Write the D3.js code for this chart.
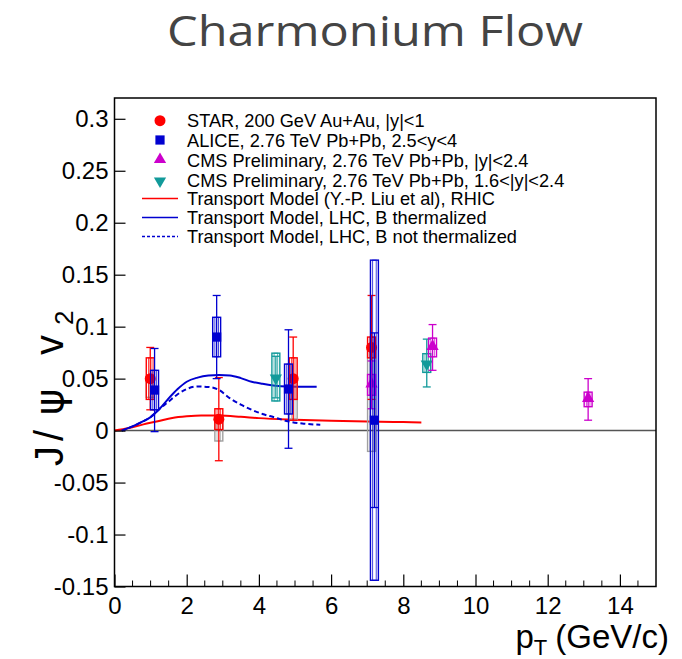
<!DOCTYPE html>
<html>
<head>
<meta charset="utf-8">
<script src="https://cdn.jsdelivr.net/npm/d3@7"></script>
<style>
  html, body { margin: 0; padding: 0; background: #fff; }
  svg { display: block; }
</style>
</head>
<body>
<svg id="chart" width="682" height="659"></svg>
<script>
// ---- Data ----------------------------------------------------------------
// STAR, 200 GeV Au+Au, |y|<1
const starPt      = [0.99, 2.89, 4.95, 7.12];
const starV2      = [0.050, 0.011, 0.050, 0.080];
const starStat    = [0.030, 0.040, 0.040, 0.050];
const starSys     = [0.020, 0.010, 0.020, 0.010];
const starNonflowLow = [0.032, -0.010, 0.011, -0.020];

// ALICE, 2.76 TeV Pb+Pb, 2.5<y<4
const alicePt   = [1.11, 2.83, 4.82, 7.20];
const aliceV2   = [0.039, 0.090, 0.040, 0.010];
const aliceStat = [0.040, 0.040, 0.057, 0.084];
const aliceSys  = [0.019, 0.019, 0.024, 0.154];

// CMS Preliminary, 2.76 TeV Pb+Pb, |y|<2.4
const cmsMidPt   = [7.12, 8.81, 13.12];
const cmsMidV2   = [0.044, 0.080, 0.030];
const cmsMidStat = [0.023, 0.022, 0.020];
const cmsMidSys  = [0.010, 0.009, 0.007];

// CMS Preliminary, 2.76 TeV Pb+Pb, 1.6<|y|<2.4
const cmsFwdPt   = [4.47, 8.65];
const cmsFwdV2   = [0.0515, 0.065];
const cmsFwdStat = [0.020, 0.023];
const cmsFwdSys  = [0.023, 0.009];

// Transport model curves
const rhicPt = [0, 0.4, 0.8, 1.2, 1.6, 2.0, 2.4, 2.9, 3.5, 4.0, 5.0, 6.0, 7.0, 8.0, 8.5];
const rhicV2 = [0, 0.0025, 0.006, 0.009, 0.0122, 0.0138, 0.0146, 0.0145, 0.0133, 0.012, 0.0105, 0.0094, 0.0087, 0.0082, 0.0079];

const lhcThermPt = [0.2, 0.5, 0.8, 1.0, 1.25, 1.5, 1.75, 2.0, 2.3, 2.6, 2.9, 3.2, 3.5, 3.8, 4.1, 4.4, 4.8, 5.2, 5.6];
const lhcThermV2 = [0, 0.004, 0.009, 0.013, 0.021, 0.031, 0.040, 0.047, 0.051, 0.053, 0.0535, 0.053, 0.0505, 0.047, 0.045, 0.0435, 0.0425, 0.0423, 0.0423];

const lhcNoThermPt = [0.2, 0.5, 0.8, 1.0, 1.25, 1.5, 1.75, 2.0, 2.3, 2.6, 2.9, 3.2, 3.5, 3.8, 4.1, 4.4, 4.8, 5.2, 5.7];
const lhcNoThermV2 = [0, 0.004, 0.009, 0.013, 0.021, 0.028, 0.035, 0.040, 0.0425, 0.042, 0.039, 0.031, 0.025, 0.020, 0.016, 0.013, 0.009, 0.0068, 0.0056];

// Axis ticks
const yTicks = [-0.15, -0.1, -0.05, 0, 0.05, 0.1, 0.15, 0.2, 0.25, 0.3];
const yTickLabels = ["-0.15", "-0.1", "-0.05", "0", "0.05", "0.1", "0.15", "0.2", "0.25", "0.3"];
const xTicks = [0, 2, 4, 6, 8, 10, 12, 14];
const xTickLabels = ["0", "2", "4", "6", "8", "10", "12", "14"];

const legendLabels = [
  "STAR, 200 GeV Au+Au, |y|<1",
  "ALICE, 2.76 TeV Pb+Pb, 2.5<y<4",
  "CMS Preliminary, 2.76 TeV Pb+Pb, |y|<2.4",
  "CMS Preliminary, 2.76 TeV Pb+Pb, 1.6<|y|<2.4",
  "Transport Model (Y.-P. Liu et al), RHIC",
  "Transport Model, LHC, B thermalized",
  "Transport Model, LHC, B not thermalized"
];

// ---- Layout ----------------------------------------------------------------
const RED = "#ff0000", BLUE = "#0000d0", MAG = "#cc00cc", TEAL = "#129a9a", GREY = "#a0a0a0";
const FONT = '"Liberation Sans", Arial, Helvetica, sans-serif';
const frame = { left: 114.5, right: 656, top: 98, bottom: 586.5 };

const svg = d3.select("#chart");
const x = d3.scaleLinear().domain([0, 15]).range([frame.left, frame.right]);
const y = d3.scaleLinear().domain([-0.15, 0.32]).range([frame.bottom, frame.top]);

// Title
svg.append("text")
  .attr("x", 167).attr("y", 46)
  .attr("font-family", "'Open Sans', Lato, sans-serif")
  .attr("font-size", 42)
  .attr("textLength", 416).attr("lengthAdjust", "spacingAndGlyphs")
  .attr("fill", "#444")
  .text("Charmonium Flow");

// Zero line
svg.append("line")
  .attr("x1", x(0)).attr("x2", x(15))
  .attr("y1", y(0)).attr("y2", y(0))
  .attr("stroke", "#555").attr("stroke-width", 1.5);

// Model curves
const line = d3.line().x(d => x(d[0])).y(d => y(d[1])).curve(d3.curveMonotoneX);
function curve(pts, vals, color, dash) {
  svg.append("path")
    .datum(pts.map((p, i) => [p, vals[i]]))
    .attr("d", line)
    .attr("fill", "none")
    .attr("stroke", color)
    .attr("stroke-width", 2)
    .attr("stroke-dasharray", dash || null);
}
curve(rhicPt, rhicV2, RED);
curve(lhcThermPt, lhcThermV2, BLUE);
curve(lhcNoThermPt, lhcNoThermV2, BLUE, "5,3");

// Marker shapes
const sym = {
  circle: d3.symbol().type(d3.symbolCircle).size(95),
  square: d3.symbol().type(d3.symbolSquare).size(85),
  triUp: d3.symbol().type(d3.symbolTriangle).size(65),
};
function marker(g, shape, cx, cy, color) {
  const p = g.append("path")
    .attr("d", shape === "triDown" ? sym.triUp() : sym[shape]())
    .attr("fill", color);
  if (shape === "triDown") p.attr("transform", `translate(${cx},${cy + 1}) rotate(180)`);
  else if (shape === "triUp") p.attr("transform", `translate(${cx},${cy - 1})`);
  else p.attr("transform", `translate(${cx},${cy})`);
}

const halfW = 0.11;   // half width of systematic boxes and caps (GeV/c)

function box(g, pt, hi, lo, color) {
  const x0 = x(pt - halfW), x1 = x(pt + halfW);
  const xi0 = x(pt - halfW * 0.45), xi1 = x(pt + halfW * 0.45);
  g.append("rect")
    .attr("x", x0).attr("width", x1 - x0)
    .attr("y", y(hi)).attr("height", y(lo) - y(hi))
    .attr("fill", "none").attr("stroke", color).attr("stroke-width", 1.4);
  g.append("rect")
    .attr("x", xi0).attr("width", xi1 - xi0)
    .attr("y", y(hi)).attr("height", y(lo) - y(hi))
    .attr("fill", "none").attr("stroke", color).attr("stroke-width", 0.9).attr("stroke-opacity", 0.8);
}

function series(pts, vals, stat, sys, color, shape, nonflowLow) {
  const g = svg.append("g");
  pts.forEach((pt, i) => {
    const v = vals[i];
    if (nonflowLow) box(g, pt, v, nonflowLow[i], GREY);
    box(g, pt, v + sys[i], v - sys[i], color);
    const cx = x(pt);
    g.append("line").attr("x1", cx).attr("x2", cx)
      .attr("y1", y(v - stat[i])).attr("y2", y(v + stat[i]))
      .attr("stroke", color).attr("stroke-width", 1.3);
    [v - stat[i], v + stat[i]].forEach(e => {
      g.append("line").attr("x1", x(pt - halfW)).attr("x2", x(pt + halfW))
        .attr("y1", y(e)).attr("y2", y(e))
        .attr("stroke", color).attr("stroke-width", 1.3);
    });
    marker(g, shape, cx, y(v), color);
  });
}

series(cmsFwdPt, cmsFwdV2, cmsFwdStat, cmsFwdSys, TEAL, "triDown");
series(starPt, starV2, starStat, starSys, RED, "circle", starNonflowLow);
series(cmsMidPt, cmsMidV2, cmsMidStat, cmsMidSys, MAG, "triUp");
series(alicePt, aliceV2, aliceStat, aliceSys, BLUE, "square");

// ---- Axes ------------------------------------------------------------------
const yAxis = d3.axisLeft(y)
  .tickValues(yTicks)
  .tickFormat((d, i) => yTickLabels[i])
  .tickSizeInner(-11).tickSizeOuter(0).tickPadding(6);
const gy = svg.append("g")
  .attr("transform", `translate(${frame.left},0)`).call(yAxis);

const xAxis = d3.axisBottom(x)
  .tickValues(xTicks)
  .tickFormat((d, i) => xTickLabels[i])
  .tickSizeInner(-12).tickSizeOuter(0).tickPadding(10);
const gx = svg.append("g")
  .attr("transform", `translate(0,${frame.bottom})`).call(xAxis);

const xMinor = d3.range(0.5, 15, 0.5).filter(v => v % 2 !== 0);
gx.selectAll(".minor").data(xMinor).enter().append("line")
  .attr("class", "minor")
  .attr("x1", d => x(d)).attr("x2", d => x(d))
  .attr("y1", 0).attr("y2", -6)
  .attr("stroke", "#000").attr("stroke-width", 1);

[gx, gy].forEach(g => {
  g.select(".domain").remove();
  g.selectAll(".tick line").attr("stroke", "#000").attr("stroke-width", 1.2);
  g.selectAll("text").attr("font-size", 24).attr("fill", "#000")
    .attr("font-family", FONT);
});

// Frame
svg.append("rect")
  .attr("x", frame.left).attr("y", frame.top)
  .attr("width", frame.right - frame.left).attr("height", frame.bottom - frame.top)
  .attr("fill", "none").attr("stroke", "#000").attr("stroke-width", 1.5);

// Axis titles
const xt = svg.append("text")
  .attr("x", 669).attr("y", 648)
  .attr("text-anchor", "end")
  .attr("font-family", FONT).attr("font-size", 33).attr("fill", "#000");
xt.append("tspan").text("p");
xt.append("tspan").attr("font-size", 22).attr("dy", 7).text("T");
xt.append("tspan").attr("dy", -7).attr("dx", 8).text("(GeV/c)");

// Rotated title, glyph pieces placed along the rotated baseline
const yt = svg.append("text")
  .attr("transform", "translate(63,471) rotate(-90)")
  .attr("font-family", FONT).attr("font-size", 40).attr("fill", "#000");
yt.append("tspan").attr("x", 5).text("J");
yt.append("tspan").attr("x", 30).text("/");
yt.append("tspan").attr("x", 56).attr("font-family", '"DejaVu Sans", sans-serif').text("ψ");
yt.append("tspan").attr("x", 116).text("v");
yt.append("tspan").attr("x", 146).attr("dy", 10).attr("font-size", 26).text("2");

// ---- Legend ----------------------------------------------------------------
const legY = [120.7, 140, 160.5, 180, 198.5, 217.5, 236.5];
const lg = svg.append("g");
legendLabels.forEach((label, i) => {
  lg.append("text")
    .attr("x", 187).attr("y", legY[i]).attr("dy", "0.36em")
    .attr("font-family", FONT).attr("font-size", 18.2).attr("fill", "#000")
    .text(label);
});
const legMarkers = [["circle", RED], ["square", BLUE], ["triUp", MAG], ["triDown", TEAL]];
legMarkers.forEach(([shape, color], i) => marker(lg, shape, 160, legY[i], color));
[[RED, null], [BLUE, null], [BLUE, "3,2"]].forEach(([color, dash], i) => {
  lg.append("line")
    .attr("x1", 142).attr("x2", 178)
    .attr("y1", legY[4 + i]).attr("y2", legY[4 + i])
    .attr("stroke", color).attr("stroke-width", 1.6)
    .attr("stroke-dasharray", dash);
});
</script>
</body>
</html>
